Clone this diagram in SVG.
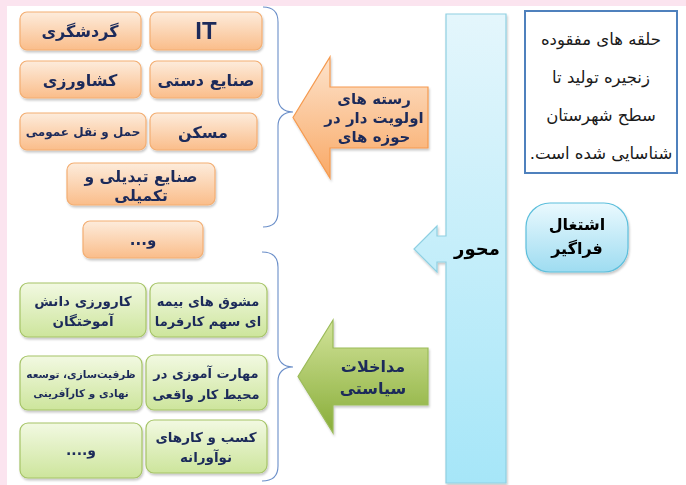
<svg xmlns="http://www.w3.org/2000/svg" width="686" height="485" viewBox="0 0 686 485">
<defs>
<linearGradient id="gOr" x1="0" y1="0" x2="0" y2="1"><stop offset="0" stop-color="#fdecdc"/><stop offset="1" stop-color="#fabd8a"/></linearGradient>
<linearGradient id="gGr" x1="0" y1="0" x2="0" y2="1"><stop offset="0" stop-color="#f2f9e2"/><stop offset="1" stop-color="#cde59c"/></linearGradient>
<linearGradient id="gOrA" x1="0" y1="0" x2="0" y2="1"><stop offset="0" stop-color="#fde3cc"/><stop offset="1" stop-color="#f9a966"/></linearGradient>
<linearGradient id="gGrA" x1="0" y1="0" x2="0" y2="1"><stop offset="0" stop-color="#d2e39a"/><stop offset="1" stop-color="#88ad38"/></linearGradient>
<linearGradient id="gBl" x1="0" y1="0" x2="0" y2="1"><stop offset="0" stop-color="#e4f6fc"/><stop offset="1" stop-color="#a6e6f8"/></linearGradient>
<linearGradient id="gPill" x1="0" y1="0" x2="0" y2="1"><stop offset="0" stop-color="#eaf9fe"/><stop offset="1" stop-color="#9edcf1"/></linearGradient>
<filter id="sh" x="-10%" y="-10%" width="125%" height="130%"><feDropShadow dx="1" dy="2" stdDeviation="1.2" flood-color="#000" flood-opacity="0.22"/></filter>
</defs>
<style>
.or{fill:url(#gOr);stroke:#f3ae72;stroke-width:1.2}
.gr{fill:url(#gGr);stroke:#a6c467;stroke-width:1.2}
.t{font-family:"DejaVu Sans",sans-serif;font-weight:bold;fill:#1c2b5a;text-anchor:middle;direction:rtl}
.brace{fill:none;stroke:#6b8fc9;stroke-width:1.1}
</style>
<rect x="0" y="0" width="686" height="485" fill="#ffffff"/>
<rect x="0" y="0" width="686" height="6" fill="#fbe4ef"/>
<rect x="0" y="0" width="7" height="485" fill="#fbe4ef"/>

<g id="connectors">
<path class="brace" d="M263,7 C273,7 278,12 278,22 V98 C278,106 283,112 293,112 C283,112 278,118 278,126 V212 C278,222 273,227 263,227"/>
<path class="brace" d="M262,252 C272,252 278,257 278,267 V353 C278,361 283,367 293,367 C283,367 278,373 278,381 V466 C278,476 272,481 262,481"/>
</g>

<g id="axis" filter="url(#sh)">
<path d="M446,14 H506 V483 H446 V262 H437 V272 L414,249 L437,226 V236 H446 Z" fill="url(#gBl)" stroke="#8fd0e2" stroke-width="1.2"/>
<text x="477" y="255" class="t" style="fill:#000;font-size:18px">محور</text>
</g>

<g id="arrow-priority" filter="url(#sh)">
<path d="M428,87 V148 H330 V178 L293,117.5 L330,57 V87 Z" fill="url(#gOrA)" stroke="#f59a4f" stroke-width="1.2"/>
<text class="t" style="font-size:15px" x="374" y="104">رسته های</text>
<text class="t" style="font-size:15px" x="374" y="123">اولویت دار در</text>
<text class="t" style="font-size:15px" x="374" y="142">حوزه های</text>
</g>

<g id="arrow-policy" filter="url(#sh)">
<path d="M428,348 V405 H333 V433 L298,376.5 L333,320 V348 Z" fill="url(#gGrA)" stroke="#9bbb59" stroke-width="1.2"/>
<text class="t" style="font-size:16px" x="373" y="372">مداخلات</text>
<text class="t" style="font-size:16px" x="373" y="394">سیاستی</text>
</g>

<g id="note">
<rect x="525" y="11" width="152" height="162" fill="#fff" stroke="#4f81bd" stroke-width="2"/>
<g style="font-family:'DejaVu Sans',sans-serif;font-size:16.5px;fill:#1a1a1a;text-anchor:middle;direction:rtl">
<text x="601" y="45">حلقه های مفقوده</text>
<text x="601" y="83">زنجیره تولید تا</text>
<text x="601" y="121">سطح شهرستان</text>
<text x="601" y="159">شناسایی شده است.</text>
</g>
</g>

<g id="inclusive-employment" filter="url(#sh)">
<rect x="526" y="203" width="102" height="69" rx="24" fill="url(#gPill)" stroke="#5dbfdc" stroke-width="1.2"/>
<text class="t" style="fill:#000;font-size:16px" x="577" y="230">اشتغال</text>
<text class="t" style="fill:#000;font-size:16px" x="577" y="254">فراگیر</text>
</g>

<g id="n-it" filter="url(#sh)"><rect class="or" x="150" y="12" width="112" height="38" rx="7"/><text x="206" y="39" style="font-family:'Liberation Sans',Arial,sans-serif;font-weight:bold;font-size:24px;fill:#1c2b5a;text-anchor:middle">IT</text></g>
<g id="n-tourism" filter="url(#sh)"><rect class="or" x="20" y="12" width="121" height="38" rx="7"/><text class="t" style="font-size:16px" x="80" y="37">گردشگری</text></g>
<g id="n-handicrafts" filter="url(#sh)"><rect class="or" x="150" y="61" width="112" height="37" rx="7"/><text class="t" style="font-size:16px" x="206" y="86">صنایع دستی</text></g>
<g id="n-agriculture" filter="url(#sh)"><rect class="or" x="20" y="61" width="121" height="37" rx="7"/><text class="t" style="font-size:16px" x="80" y="86">کشاورزی</text></g>
<g id="n-housing" filter="url(#sh)"><rect class="or" x="150" y="113" width="107" height="37" rx="7"/><text class="t" style="font-size:16px" x="203" y="138">مسکن</text></g>
<g id="n-transport" filter="url(#sh)"><rect class="or" x="20" y="113" width="126" height="37" rx="7"/><text class="t" style="font-size:12px" x="83" y="136">حمل و نقل عمومی</text></g>
<g id="n-processing" filter="url(#sh)"><rect class="or" x="67" y="163" width="148" height="42" rx="7"/><text class="t" style="font-size:15.5px" x="141" y="182">صنایع تبدیلی و</text><text class="t" style="font-size:15.5px" x="141" y="201">تکمیلی</text></g>
<g id="n-etc1" filter="url(#sh)"><rect class="or" x="83" y="221" width="120" height="37" rx="7"/><text class="t" style="font-size:15px" x="143" y="245">و...</text></g>

<g id="n-insurance" filter="url(#sh)"><rect class="gr" x="150" y="283" width="117" height="54" rx="8"/><text class="t" style="font-size:13px" x="208" y="306">مشوق های بیمه</text><text class="t" style="font-size:13px" x="208" y="326">ای سهم کارفرما</text></g>
<g id="n-internship" filter="url(#sh)"><rect class="gr" x="20" y="283" width="126" height="54" rx="8"/><text class="t" style="font-size:13.5px" x="83" y="306">کارورزی دانش</text><text class="t" style="font-size:13.5px" x="83" y="326">آموختگان</text></g>
<g id="n-skills" filter="url(#sh)"><rect class="gr" x="146" y="355" width="121" height="55" rx="8"/><text class="t" style="font-size:13px" x="206" y="378">مهارت آموزی در</text><text class="t" style="font-size:13px" x="206" y="399">محیط کار واقعی</text></g>
<g id="n-capacity" filter="url(#sh)"><rect class="gr" x="20" y="356" width="122" height="54" rx="8"/><text class="t" style="font-size:10.5px" x="81" y="378">ظرفیت‌سازی، توسعه</text><text class="t" style="font-size:10.5px" x="81" y="397">نهادی و کارآفرینی</text></g>
<g id="n-startups" filter="url(#sh)"><rect class="gr" x="146" y="420" width="121" height="53" rx="8"/><text class="t" style="font-size:13.5px" x="206" y="442">کسب و کارهای</text><text class="t" style="font-size:13.5px" x="206" y="462">نوآورانه</text></g>
<g id="n-etc2" filter="url(#sh)"><rect class="gr" x="20" y="423" width="122" height="55" rx="8"/><text class="t" style="font-size:14px" x="81" y="455">و....</text></g>
</svg>
